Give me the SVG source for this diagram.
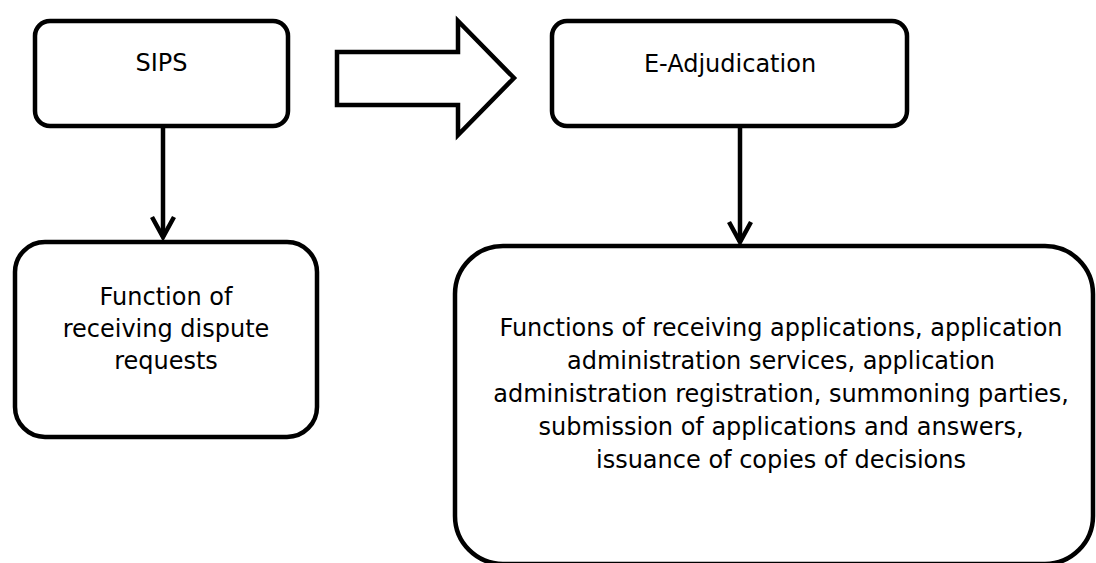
<svg xmlns="http://www.w3.org/2000/svg" width="1096" height="563" viewBox="0 0 1096 563">
<style>
.box{fill:#fff;stroke:#000;stroke-width:4.5}
.lbl{font-family:"DejaVu Sans",sans-serif;font-size:24px;fill:#000;text-anchor:middle}
.conn{stroke:#000;stroke-width:4.5;fill:none}
</style>
<defs>
<marker id="chev" markerUnits="userSpaceOnUse" markerWidth="40" markerHeight="40" viewBox="-30 -20 40 40" refX="0" refY="0" orient="auto" overflow="visible">
<path d="M-20,-11 L0,0 L-20,11" fill="none" stroke="#000" stroke-width="4.5" stroke-linejoin="miter"/>
</marker>
</defs>
<rect width="1096" height="563" fill="#fff"/>
<g id="connectors">
<line class="conn" x1="163" y1="126" x2="163" y2="237" marker-end="url(#chev)"/>
<line class="conn" x1="740" y1="126" x2="740" y2="242" marker-end="url(#chev)"/>
<polygon id="block-arrow" class="box" points="337,52 458,52 458,21 514,78 458,135 458,105 337,105"/>
</g>
<g id="sips">
<rect class="box" x="35" y="21" width="253" height="105" rx="15"/>
<text class="lbl" x="161.5" y="71">SIPS</text>
</g>
<g id="eadj">
<rect class="box" x="552" y="21" width="355" height="105" rx="15"/>
<text class="lbl" x="730" y="71.5">E-Adjudication</text>
</g>
<g id="func-left">
<rect class="box" x="15" y="242" width="302" height="195" rx="30"/>
<text class="lbl" x="166" y="305">Function of</text>
<text class="lbl" x="166" y="337">receiving dispute</text>
<text class="lbl" x="166" y="369">requests</text>
</g>
<g id="func-right">
<rect class="box" x="455" y="246" width="638" height="318" rx="48"/>
<text class="lbl" x="781" y="336">Functions of receiving applications, application</text>
<text class="lbl" x="781" y="369">administration services, application</text>
<text class="lbl" x="781" y="402">administration registration, summoning parties,</text>
<text class="lbl" x="781" y="435">submission of applications and answers,</text>
<text class="lbl" x="781" y="468">issuance of copies of decisions</text>
</g>
</svg>
